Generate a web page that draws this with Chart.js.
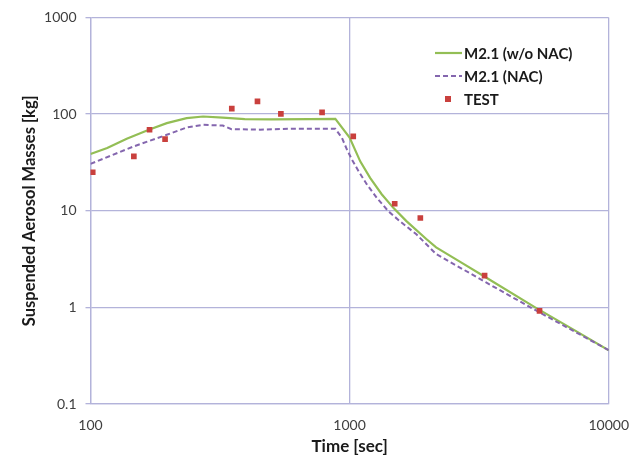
<!DOCTYPE html>
<html>
<head>
<meta charset="utf-8">
<script src="https://cdn.jsdelivr.net/npm/chart.js@4"></script>
<style>
  html, body { margin: 0; padding: 0; background: #fff; }
  #wrap { width: 642px; height: 460px; }
</style>
</head>
<body>
<div id="wrap"><canvas id="c" width="642" height="460"></canvas></div>
<script>
// ---- data ----
const seriesNames = ["M2.1 (w/o NAC)", "M2.1 (NAC)", "TEST"];

const woNacTime = [100, 116, 138, 168, 197, 235, 272, 324, 394, 500, 700, 881, 1000, 1099, 1200, 1330, 1475, 1657, 1977, 2158, 2692, 3350, 5200, 7396, 10000];
const woNacMass = [38.6, 44.5, 55.6, 68.7, 80.5, 90.6, 94.3, 92, 88.5, 88, 88.5, 89, 57, 32.4, 21.9, 14.8, 10.7, 7.8, 5.1, 4.17, 2.92, 2.05, 1.0, 0.578, 0.36];

const nacTime = [100, 147, 197, 235, 272, 324, 350, 450, 600, 881, 935, 977, 1021, 1083, 1166, 1273, 1410, 1562, 1810, 2158, 3350, 5200, 10000];
const nacMass = [30.5, 46.3, 61, 72.6, 77.4, 76, 69.8, 69, 70.5, 70.4, 56.4, 42.8, 33.8, 25.6, 18.7, 13.6, 9.9, 7.8, 5.7, 3.56, 1.82, 0.94, 0.36];

const testTime = [102, 147, 169, 194, 351, 441, 543, 783, 1033, 1493, 1875, 3319, 5408];
const testMass = [25, 36.5, 68.8, 55, 114, 135, 100.5, 104, 58.7, 11.8, 8.4, 2.13, 0.92];

const xTicks = [100, 1000, 10000];
const yTicks = [0.1, 1, 10, 100, 1000];

const xTitle = "Time [sec]";
const yTitle = "Suspended Aerosol Masses [kg]";

// ---- build ----
const pts = (xs, ys) => xs.map((x, i) => ({ x: x, y: ys[i] }));

const GREEN = '#93be55';
const PURPLE = '#8466ae';
const RED = '#c9403d';
const GRID = '#b3b3da';
const FONT = 'Lato, "Open Sans", sans-serif';

const legendPlugin = {
  id: 'insideLegend',
  afterDraw(chart) {
    const ctx = chart.ctx;
    const ds = chart.data.datasets;
    const x0 = 435, x1 = 462, tx = 464;
    const ys = [53, 76, 99];
    ctx.save();
    ctx.font = 'bold 15px ' + FONT;
    ctx.fillStyle = '#1a1a1a';
    ctx.textBaseline = 'middle';
    ds.forEach((d, i) => {
      const y = ys[i];
      if (d.showLine) {
        ctx.beginPath();
        ctx.strokeStyle = d.borderColor;
        ctx.lineWidth = d.borderWidth;
        ctx.setLineDash(d.borderDash || []);
        ctx.moveTo(x0, y);
        ctx.lineTo(x1, y);
        ctx.stroke();
        ctx.setLineDash([]);
      } else {
        ctx.fillStyle = d.backgroundColor;
        ctx.fillRect(445, y - 3, 6, 6);
        ctx.fillStyle = '#1a1a1a';
      }
      ctx.fillText(d.label, tx, y + 1);
    });
    ctx.restore();
  }
};

new Chart(document.getElementById('c'), {
  type: 'scatter',
  data: {
    datasets: [
      {
        label: seriesNames[0],
        data: pts(woNacTime, woNacMass),
        showLine: true,
        borderColor: GREEN,
        backgroundColor: GREEN,
        borderWidth: 2.2,
        pointRadius: 0,
        tension: 0,
        order: 2
      },
      {
        label: seriesNames[1],
        data: pts(nacTime, nacMass),
        showLine: true,
        borderColor: PURPLE,
        backgroundColor: PURPLE,
        borderWidth: 2,
        borderDash: [5, 3],
        pointRadius: 0,
        tension: 0,
        order: 1
      },
      {
        label: seriesNames[2],
        data: pts(testTime, testMass),
        showLine: false,
        pointStyle: 'rect',
        pointRadius: 4,
        borderWidth: 0,
        backgroundColor: RED,
        borderColor: RED,
        order: 0
      }
    ]
  },
  options: {
    responsive: false,
    animation: false,
    devicePixelRatio: 1,
    layout: { padding: { left: 0, right: 28, top: 15, bottom: 0 } },
    plugins: {
      legend: { display: false },
      tooltip: { enabled: false }
    },
    scales: {
      x: {
        type: 'logarithmic',
        min: xTicks[0],
        max: xTicks[xTicks.length - 1],
        afterBuildTicks: s => { s.ticks = xTicks.map(v => ({ value: v })); },
        afterFit: s => { s.height = 56; },
        grid: { color: GRID, lineWidth: 1.3, drawTicks: false },
        border: { color: GRID, width: 1.3 },
        ticks: {
          padding: 13,
          color: '#404040',
          font: { family: FONT, size: 14 },
          maxRotation: 0,
          callback: v => String(v)
        },
        title: {
          display: true,
          text: xTitle,
          color: '#1a1a1a',
          font: { family: FONT, size: 17, weight: 'bold' },
          padding: { top: 4, bottom: 3 }
        }
      },
      y: {
        type: 'logarithmic',
        min: yTicks[0],
        max: yTicks[yTicks.length - 1],
        afterBuildTicks: s => { s.ticks = yTicks.map(v => ({ value: v })); },
        afterFit: s => { s.width = 90.5; },
        grid: { color: GRID, lineWidth: 1.3, drawTicks: true, tickLength: 5 },
        border: { color: GRID, width: 1.3 },
        ticks: {
          padding: 9,
          color: '#404040',
          font: { family: FONT, size: 14 },
          callback: v => String(v)
        },
        title: {
          display: true,
          text: yTitle,
          color: '#1a1a1a',
          font: { family: FONT, size: 16.5, weight: 'bold' },
          padding: { top: 20, bottom: 0 }
        }
      }
    }
  },
  plugins: [legendPlugin]
});
</script>
</body>
</html>
